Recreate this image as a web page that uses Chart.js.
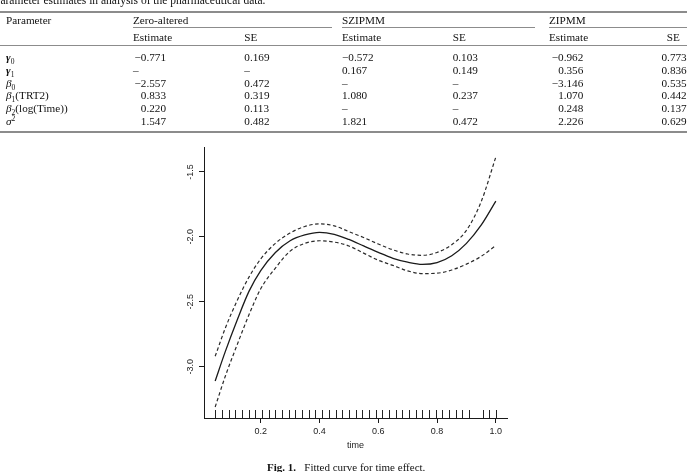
<!DOCTYPE html>
<html>
<head>
<meta charset="utf-8">
<script src="https://cdn.jsdelivr.net/npm/chart.js@4.4.1/dist/chart.umd.min.js"></script>
<style>
html,body{margin:0;padding:0;background:#fff;}
body{width:700px;height:472px;position:relative;overflow:hidden;font-family:"Liberation Serif",serif;color:#111;}
#c{position:absolute;left:0;top:0;}
.t{position:absolute;white-space:nowrap;font-size:11.2px;line-height:11px;}
.r{text-align:right;}
.rule{position:absolute;background:#8c8c8c;}
sub{font-size:7.5px;vertical-align:-2.5px;line-height:0;}
sup{font-size:7.5px;vertical-align:4px;line-height:0;}
#cap{position:absolute;left:267px;top:462px;font-size:11px;line-height:11px;white-space:nowrap;}
#ttl{position:absolute;left:-6px;top:-5px;font-size:11.5px;line-height:11px;white-space:nowrap;}
</style>
</head>
<body>
<canvas id="c" width="700" height="472"></canvas>
<div id="ttl">Parameter estimates in analysis of the pharmaceutical data.</div>
<div id="tbl"></div>
<div id="cap"><b>Fig. 1.</b>&nbsp;&nbsp; Fitted curve for time effect.</div>
<script>
// ---------- table data ----------
const paramLabels = [
  '<b><i>γ</i></b><sub>0</sub>',
  '<b><i>γ</i></b><sub>1</sub>',
  '<i>β</i><sub>0</sub>',
  '<i>β</i><sub>1</sub>(TRT2)',
  '<i>β</i><sub>2</sub>(log(Time))',
  '<i>σ</i><sup>2</sup>'
];
const zeroAlteredEst = [-0.771, null, -2.557, 0.833, 0.220, 1.547];
const zeroAlteredSE  = [0.169, null, 0.472, 0.319, 0.113, 0.482];
const szipmmEst      = [-0.572, 0.167, null, 1.080, null, 1.821];
const szipmmSE       = [0.103, 0.149, null, 0.237, null, 0.472];
const zipmmEst       = [-0.962, 0.356, -3.146, 1.070, 0.248, 2.226];
const zipmmSE        = [0.773, 0.836, 0.535, 0.442, 0.137, 0.629];

// ---------- chart data ----------
const timeGrid = [0.045, 0.08, 0.12, 0.16, 0.20, 0.25, 0.30, 0.35, 0.40, 0.45, 0.50, 0.55, 0.60, 0.65, 0.70, 0.75, 0.80, 0.85, 0.90, 0.95, 1.00];
const fittedCurve = [-3.11, -2.88, -2.64, -2.42, -2.26, -2.12, -2.03, -1.985, -1.965, -1.98, -2.02, -2.07, -2.12, -2.165, -2.195, -2.212, -2.198, -2.145, -2.05, -1.91, -1.725];
const upperBand   = [-2.92, -2.70, -2.49, -2.31, -2.17, -2.05, -1.97, -1.92, -1.90, -1.915, -1.96, -2.005, -2.055, -2.10, -2.132, -2.142, -2.12, -2.06, -1.95, -1.73, -1.385];
const lowerBand   = [-3.31, -3.07, -2.83, -2.60, -2.40, -2.24, -2.11, -2.05, -2.03, -2.04, -2.07, -2.125, -2.18, -2.22, -2.262, -2.283, -2.28, -2.255, -2.21, -2.15, -2.067];
const rugTimes = [0.045, 0.068, 0.091, 0.114, 0.136, 0.159, 0.182, 0.205, 0.227, 0.250, 0.273, 0.295, 0.318, 0.341, 0.364, 0.386, 0.409, 0.432, 0.455, 0.477, 0.500, 0.523, 0.545, 0.568, 0.591, 0.614, 0.636, 0.659, 0.682, 0.705, 0.727, 0.750, 0.773, 0.795, 0.818, 0.841, 0.864, 0.886, 0.909, 0.955, 0.977, 1.000];
const xTickValues = [0.2, 0.4, 0.6, 0.8, 1.0];
const yTickValues = [-3.0, -2.5, -2.0, -1.5];
const xLimits = [0.007, 1.038];
const yLimits = [-3.395, -1.308];

// ---------- build table ----------
const tbl = document.getElementById('tbl');
function addText(html, left, center, cls, width) {
  const d = document.createElement('div');
  d.className = 't' + (cls ? ' ' + cls : '');
  d.innerHTML = html;
  d.style.top = (center - 5.6) + 'px';
  if (cls === 'r') { d.style.left = (left - width) + 'px'; d.style.width = width + 'px'; }
  else d.style.left = left + 'px';
  tbl.appendChild(d);
}
function addRule(x, y, w, h) {
  const d = document.createElement('div');
  d.className = 'rule';
  d.style.left = x + 'px'; d.style.top = y + 'px'; d.style.width = w + 'px'; d.style.height = h + 'px';
  tbl.appendChild(d);
}
function fmt(v) { return v.toFixed(3).replace('-', '\u2212'); }

addRule(0, 11, 687, 1.6);
addRule(133, 27, 199, 1);
addRule(342, 27, 193, 1);
addRule(549, 27, 138, 1);
addRule(0, 44.5, 687, 1);
addRule(0, 131, 687, 1.6);

addText('Parameter', 6, 20.7);
addText('Zero-altered', 133, 20.7);
addText('SZIPMM', 342, 20.7);
addText('ZIPMM', 549, 20.7);
[[133, 'Estimate'], [244.3, 'SE'], [342, 'Estimate'], [452.7, 'SE'], [549, 'Estimate'], [666.7, 'SE']]
  .forEach(([x, s]) => addText(s, x, 37.3));

const rowCenters = paramLabels.map((_, i) => 57.3 + i * 12.9);
paramLabels.forEach((lab, i) => {
  const c = rowCenters[i];
  addText(lab, 6, c);
  if (zeroAlteredEst[i] === null) addText('\u2013', 133, c); else addText(fmt(zeroAlteredEst[i]), 166, c, 'r', 60);
  if (zeroAlteredSE[i] === null) addText('\u2013', 244.3, c); else addText(fmt(zeroAlteredSE[i]), 244.3, c);
  if (szipmmEst[i] === null) addText('\u2013', 342, c); else addText(fmt(szipmmEst[i]), 342, c);
  if (szipmmSE[i] === null) addText('\u2013', 452.7, c); else addText(fmt(szipmmSE[i]), 452.7, c);
  if (zipmmEst[i] === null) addText('\u2013', 549, c); else addText(fmt(zipmmEst[i]), 583.3, c, 'r', 60);
  if (zipmmSE[i] === null) addText('\u2013', 666.7, c); else addText(fmt(zipmmSE[i]), 686.7, c, 'r', 60);
});

// ---------- chart ----------
const toPts = arr => timeGrid.map((t, i) => ({ x: t, y: arr[i] }));

const rugPlugin = {
  id: 'rug',
  afterDatasetsDraw(chart) {
    const { ctx, chartArea, scales } = chart;
    ctx.save();
    ctx.strokeStyle = '#222';
    ctx.lineWidth = 1;
    rugTimes.forEach(t => {
      const px = Math.round(scales.x.getPixelForValue(t)) + 0.5;
      ctx.beginPath();
      ctx.moveTo(px, chartArea.bottom);
      ctx.lineTo(px, chartArea.bottom - 8);
      ctx.stroke();
    });
    ctx.restore();
  }
};

const axisFont = { family: 'Liberation Sans', size: 9 };

new Chart(document.getElementById('c'), {
  type: 'line',
  data: {
    datasets: [
      { label: 'fitted', data: toPts(fittedCurve), borderColor: '#1a1a1a', borderWidth: 1.3, pointRadius: 0, cubicInterpolationMode: 'monotone', fill: false },
      { label: 'upper', data: toPts(upperBand), borderColor: '#2a2a2a', borderWidth: 1.2, borderDash: [3.5, 2.5], pointRadius: 0, cubicInterpolationMode: 'monotone', fill: false },
      { label: 'lower', data: toPts(lowerBand), borderColor: '#2a2a2a', borderWidth: 1.2, borderDash: [3.5, 2.5], pointRadius: 0, cubicInterpolationMode: 'monotone', fill: false }
    ]
  },
  options: {
    responsive: false,
    animation: false,
    devicePixelRatio: 1,
    layout: { padding: { left: 174, right: 193, top: 147, bottom: 14 } },
    plugins: { legend: { display: false }, tooltip: { enabled: false } },
    scales: {
      x: {
        type: 'linear',
        min: xLimits[0], max: xLimits[1],
        afterBuildTicks: s => { s.ticks = xTickValues.map(v => ({ value: v })); },
        afterFit: s => { s.height = 40; },
        grid: { display: true, drawOnChartArea: false, drawTicks: true, tickLength: 5, color: '#1a1a1a', lineWidth: 1 },
        border: { display: true, color: '#1a1a1a', width: 1 },
        ticks: { autoSkip: false, maxRotation: 0, minRotation: 0, padding: 3, color: '#222', font: axisFont,
                 callback: v => Number(v).toFixed(1) },
        title: { display: true, text: 'time', color: '#222', font: axisFont, padding: { top: 0, bottom: 7 } }
      },
      y: {
        type: 'linear',
        min: yLimits[0], max: yLimits[1],
        afterBuildTicks: s => { s.ticks = yTickValues.map(v => ({ value: v })); },
        afterFit: s => { s.width = 30; },
        grid: { display: true, drawOnChartArea: false, drawTicks: true, tickLength: 5, color: '#1a1a1a', lineWidth: 1 },
        border: { display: true, color: '#1a1a1a', width: 1 },
        ticks: { autoSkip: false, minRotation: 90, maxRotation: 90, crossAlign: 'center', padding: 1, color: '#222', font: axisFont,
                 callback: v => Number(v).toFixed(1) }
      }
    }
  },
  plugins: [rugPlugin]
});
</script>
</body>
</html>
